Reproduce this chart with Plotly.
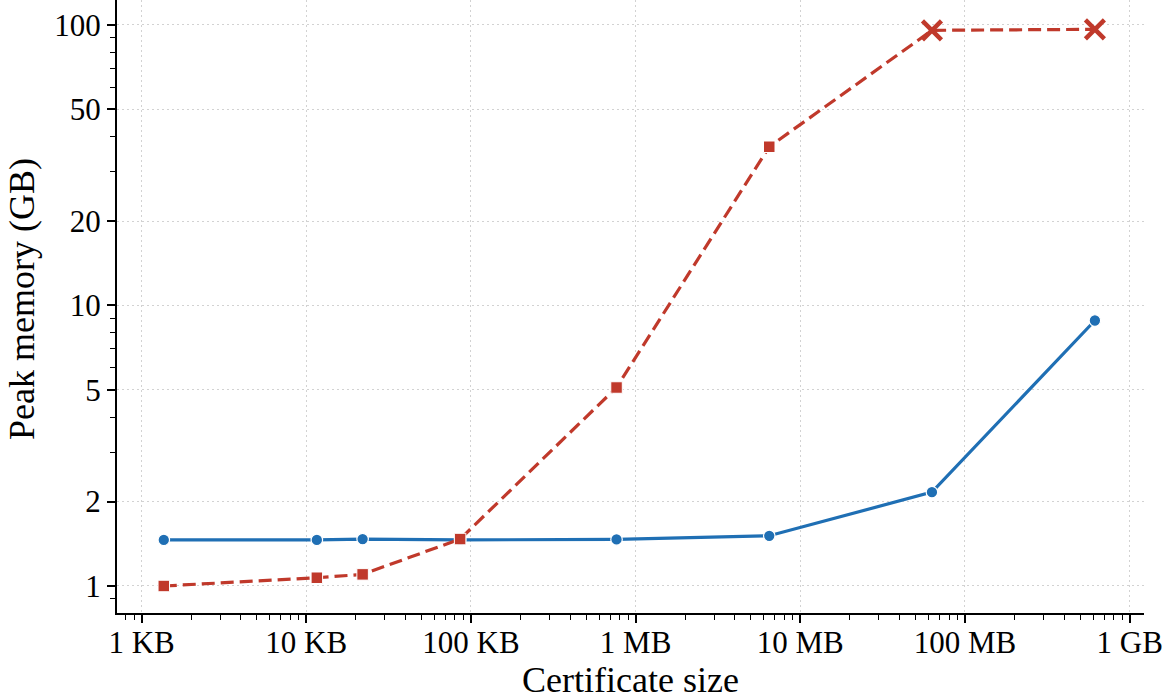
import plotly.graph_objects as go

# ---- data ----
cert_size_bytes = [1365, 11600, 22000, 86000, 766000, 6480000, 63000000, 615000000]
series_a_gb = [1.46, 1.46, 1.47, 1.46, 1.465, 1.51, 2.16, 8.84]          # blue, solid
series_b_gb = [1.00, 1.07, 1.10, 1.47, 5.10, 36.8, 95.7, 96.5]          # red, dashed
series_b_failed = [False, False, False, False, False, False, True, True]  # drawn as X

x_tick_vals = [1e3, 1e4, 1e5, 1e6, 1e7, 1e8, 1e9]
x_tick_text = ["1 KB", "10 KB", "100 KB", "1 MB", "10 MB", "100 MB", "1 GB"]
y_tick_vals = [1, 2, 5, 10, 20, 50, 100]
y_tick_text = ["1", "2", "5", "10", "20", "50", "100"]
x_minor_vals = [800, 900] + [k * 10 ** d for d in range(3, 9) for k in range(2, 10)]
y_minor_vals = [0.9, 3, 4, 6, 7, 8, 9, 30, 40, 60, 70, 80, 90]
x_title = "Certificate size"
y_title = "Peak memory (GB)"

BLUE = "#1f6fb4"
RED = "#c0392b"
FONT = "Liberation Serif"

W, H = 1166, 699
ML, MR, MT, MB = 117, 22, 0, 86
PW, PH = W - ML - MR, H - MT - MB

fig = go.Figure()

fig.add_trace(go.Scatter(
    x=cert_size_bytes, y=series_a_gb, mode="lines+markers",
    line=dict(color=BLUE, width=3.2),
    marker=dict(symbol="circle", size=11.5, color=BLUE, line=dict(color="white", width=1.2)),
    showlegend=False,
))

fig.add_trace(go.Scatter(
    x=cert_size_bytes, y=series_b_gb, mode="lines",
    line=dict(color=RED, width=3.2, dash="13px,6px"),
    showlegend=False,
))

ok_x = [x for x, f in zip(cert_size_bytes, series_b_failed) if not f]
ok_y = [y for y, f in zip(series_b_gb, series_b_failed) if not f]
fail_x = [x for x, f in zip(cert_size_bytes, series_b_failed) if f]
fail_y = [y for y, f in zip(series_b_gb, series_b_failed) if f]

fig.add_trace(go.Scatter(
    x=ok_x, y=ok_y, mode="markers",
    marker=dict(symbol="square", size=11.5, color=RED, line=dict(color="white", width=1)),
    showlegend=False,
))
fig.add_trace(go.Scatter(
    x=fail_x, y=fail_y, mode="markers",
    marker=dict(symbol="x-thin", size=19, color=RED, line=dict(color=RED, width=4.5)),
    showlegend=False,
))

axis_common = dict(
    showline=True, linecolor="black", linewidth=2,
    ticks="outside", ticklen=8, tickwidth=1.6, tickcolor="black",
    showgrid=True, gridcolor="#d2d2d2", griddash="2px,3px", gridwidth=1.3,
    zeroline=False, mirror=False, automargin=False,
    tickfont=dict(family=FONT, size=31, color="black"),
)

fig.update_xaxes(
    type="log", range=[2.851, 9.087],
    tickmode="array", tickvals=x_tick_vals, ticktext=x_tick_text,
    ticklabelstandoff=-7,
    minor=dict(tickmode="array", tickvals=x_minor_vals, ticks="outside",
               ticklen=5, tickwidth=1.4, tickcolor="black", showgrid=False),
    **axis_common,
)
fig.update_yaxes(
    type="log", range=[-0.0963, 2.089],
    tickmode="array", tickvals=y_tick_vals, ticktext=y_tick_text,
    minor=dict(tickmode="array", tickvals=y_minor_vals, ticks="outside",
               ticklen=5, tickwidth=1.4, tickcolor="black", showgrid=False),
    **axis_common,
)

# axis titles as annotations for exact placement
fig.add_annotation(
    text=x_title, xref="paper", yref="paper",
    x=0.5, y=-(680 - PH) / PH, xanchor="center", yanchor="middle",
    showarrow=False, font=dict(family=FONT, size=36, color="black"),
)
fig.add_annotation(
    text=y_title, xref="paper", yref="paper", textangle=-90,
    x=(22 - ML) / PW, y=(PH - 299) / PH, xanchor="center", yanchor="middle",
    showarrow=False, font=dict(family=FONT, size=36, color="black"),
)

fig.update_layout(
    width=W, height=H,
    margin=dict(l=ML, r=MR, t=MT, b=MB, pad=0),
    plot_bgcolor="white", paper_bgcolor="white",
    font=dict(family=FONT, color="black"),
)

fig.write_html("out.html")
